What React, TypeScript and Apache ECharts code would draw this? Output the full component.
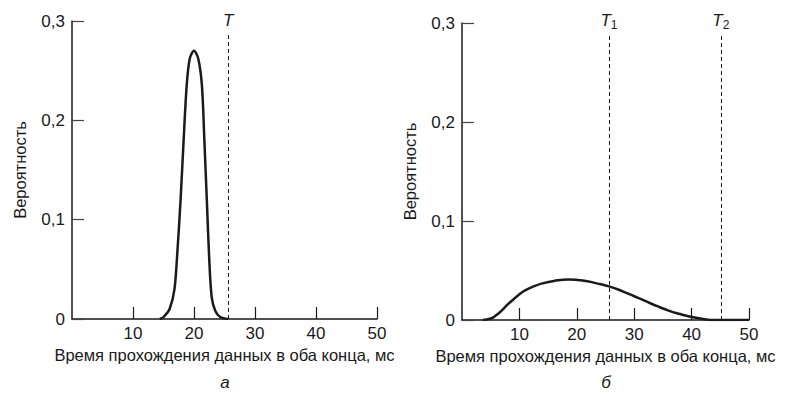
import React, { useEffect, useRef } from "react";
import * as echarts from "echarts";

// Left panel (а): narrow distribution, ms -> probability
const leftX = [14.4, 15, 16, 16.8, 17.3, 17.8, 18.3, 18.8, 19.3, 20, 20.7, 21.3, 21.7, 22.1, 22.5, 22.9, 23.5, 24.3, 25.6];
const leftY = [0, 0.002, 0.01, 0.03, 0.07, 0.12, 0.18, 0.235, 0.262, 0.27, 0.262, 0.235, 0.18, 0.12, 0.06, 0.022, 0.008, 0.002, 0];

// Right panel (б): wide distribution
const rightX = [3.6, 5, 6, 7, 8, 9, 10, 11, 12.5, 14, 16, 18.5, 21, 23.5, 25.6, 28, 30, 32, 34, 36, 38, 40, 42, 44, 50];
const rightY = [0, 0.0015, 0.005, 0.01, 0.016, 0.021, 0.026, 0.03, 0.034, 0.037, 0.0395, 0.041, 0.04, 0.037, 0.034, 0.029, 0.024, 0.019, 0.014, 0.0095, 0.006, 0.003, 0.001, 0, 0];

// Thresholds
const tLeft = 25.6;
const t1Right = 25.6;
const t2Right = 45.1;
const thresholdTop = 0.288;

const xTicks = [0, 10, 20, 30, 40, 50];
const yTicks = [0, 0.1, 0.2, 0.3];

const xName = "Время прохождения данных в оба конца, мс";
const yName = "Вероятность";
const panelLabels = ["а", "б"];

const FONT = "'Liberation Sans', Arial, Helvetica, sans-serif";
const INK = "#1a1a1a";

function zip(xs: number[], ys: number[]) {
  return xs.map((x, i) => [x, ys[i]]);
}

function xAxisDef(gridIndex: number) {
  return {
    type: "value",
    gridIndex,
    min: xTicks[0],
    max: xTicks[xTicks.length - 1],
    interval: 10,
    name: xName,
    nameLocation: "middle",
    nameGap: 25,
    nameTextStyle: { fontFamily: FONT, fontSize: 16.5, color: INK },
    axisLine: { show: true, lineStyle: { color: INK, width: 1.5 } },
    axisTick: { show: true, inside: true, length: 12, lineStyle: { color: INK, width: 1.2 } },
    axisLabel: {
      showMinLabel: false,
      margin: 6,
      fontFamily: FONT,
      fontSize: 17,
      color: INK,
      formatter: (v: number) => String(v),
    },
    splitLine: { show: false },
  };
}

function yAxisDef(gridIndex: number) {
  return {
    type: "value",
    gridIndex,
    min: yTicks[0],
    max: yTicks[yTicks.length - 1],
    interval: 0.1,
    name: yName,
    nameLocation: "middle",
    nameGap: 44,
    nameRotate: 90,
    nameTextStyle: { fontFamily: FONT, fontSize: 16.5, color: INK },
    axisLine: { show: true, lineStyle: { color: INK, width: 1.5 } },
    axisTick: { show: true, inside: true, length: 12, lineStyle: { color: "#444", width: 1.2 } },
    axisLabel: {
      margin: 7,
      fontFamily: FONT,
      fontSize: 17,
      color: INK,
      showMaxLabel: true,
      formatter: (v: number) => (v === 0 ? "0" : v.toFixed(1).replace(".", ",")),
    },
    splitLine: { show: false },
  };
}

function thresholdLine(x: number, label: string, sub: string) {
  return [
    {
      coord: [x, 0],
      symbol: "none",
    },
    {
      coord: [x, thresholdTop],
      symbol: "none",
      label: {
        show: true,
        position: "end",
        distance: 4,
        formatter: sub ? `{t|${label}}{s|${sub}}` : `{t|${label}}`,
        rich: {
          t: { fontFamily: FONT, fontSize: 17, fontStyle: "italic", color: INK },
          s: { fontFamily: FONT, fontSize: 12, color: INK, verticalAlign: "bottom", padding: [8, 0, 0, 0] },
        },
      },
    },
  ];
}

export default function App() {
  const ref = useRef<HTMLDivElement>(null);
  useEffect(() => {
    if (!ref.current) return;
    const chart = echarts.init(ref.current, null, { renderer: "svg" });
    const markLineBase = {
      silent: true,
      symbol: ["none", "none"],
      lineStyle: { color: INK, width: 1, type: [4, 3] },
    };
    chart.setOption({
      animation: false,
      backgroundColor: "#ffffff",
      grid: [
        { left: 72, top: 21, width: 305, height: 298 },
        { left: 462, top: 23, width: 287, height: 297 },
      ],
      xAxis: [xAxisDef(0), xAxisDef(1)],
      yAxis: [yAxisDef(0), yAxisDef(1)],
      series: [
        {
          type: "line",
          xAxisIndex: 0,
          yAxisIndex: 0,
          data: zip(leftX, leftY),
          smooth: 0.3,
          showSymbol: false,
          lineStyle: { color: INK, width: 2.5 },
          markLine: { ...markLineBase, data: [thresholdLine(tLeft, "T", "")] },
        },
        {
          type: "line",
          xAxisIndex: 1,
          yAxisIndex: 1,
          data: zip(rightX, rightY),
          smooth: 0.5,
          showSymbol: false,
          lineStyle: { color: INK, width: 2.5 },
          markLine: {
            ...markLineBase,
            data: [thresholdLine(t1Right, "T", "1"), thresholdLine(t2Right, "T", "2")],
          },
        },
      ],
      graphic: [
        {
          type: "text",
          x: 225,
          y: 382,
          style: { text: panelLabels[0], font: `italic 17px ${FONT}`, fill: INK, align: "center", verticalAlign: "middle" },
        },
        {
          type: "text",
          x: 606,
          y: 382,
          style: { text: panelLabels[1], font: `italic 17px ${FONT}`, fill: INK, align: "center", verticalAlign: "middle" },
        },
      ],
    });
    return () => chart.dispose();
  }, []);
  return (
    <div
      ref={ref}
      style={{ position: "absolute", left: 0, top: 0, width: 785, height: 394, background: "#fff" }}
    />
  );
}
